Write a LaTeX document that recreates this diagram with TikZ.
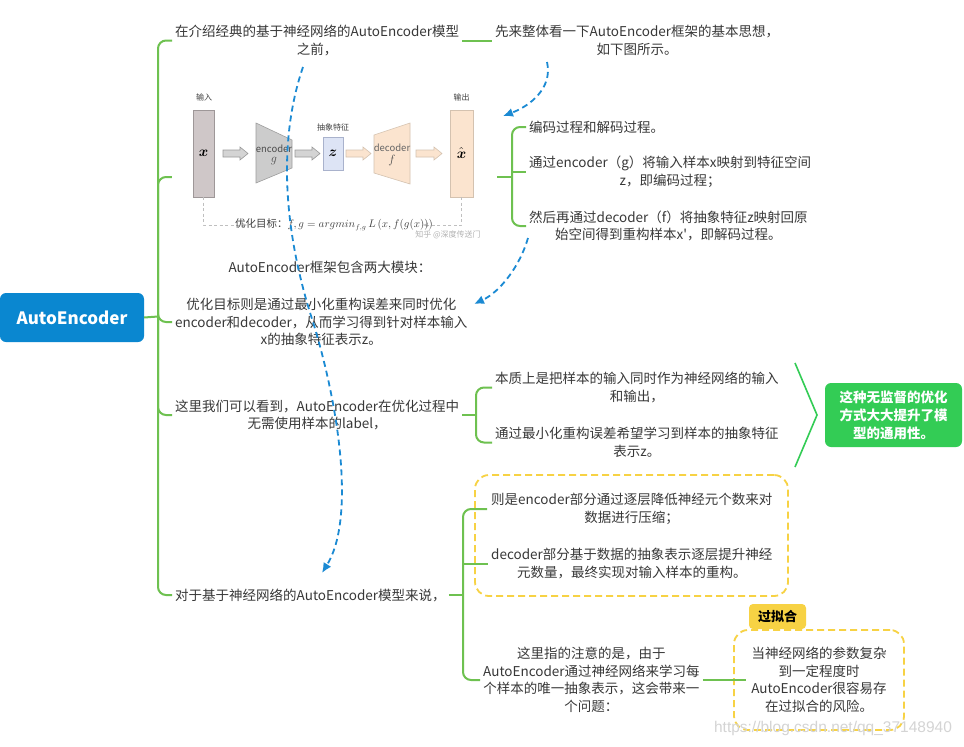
\documentclass[tikz,border=0pt]{standalone}
\usepackage{amsmath}
\usepackage{fontspec}
\setmainfont{Noto Sans CJK SC}
\newfontfamily\wmfont{Liberation Sans}
\usetikzlibrary{arrows.meta}
\definecolor{brg}{HTML}{6EC150}
\definecolor{rootblue}{HTML}{0A87D0}
\definecolor{sumgreen}{HTML}{33CC55}
\definecolor{ylw}{HTML}{F7D244}
\definecolor{dashblue}{HTML}{1B8AD3}
\definecolor{txt}{HTML}{383838}
\definecolor{inrect}{HTML}{CFC7C8}
\definecolor{inedge}{HTML}{9E9798}
\definecolor{zfill}{HTML}{DDE4F5}
\definecolor{zedge}{HTML}{A9B2CC}
\definecolor{peach}{HTML}{FBE4CF}
\definecolor{peachedge}{HTML}{D4C2B0}
\begin{document}
\begin{tikzpicture}[x=1pt,y=-1pt,
  br/.style={draw=brg,line width=2pt,rounded corners=8pt},
  topic/.style={anchor=west,align=center,text=txt,inner sep=3pt,font=\fontsize{13.5}{17.5}\selectfont},
  flow/.style={draw=dashblue,line width=1.8pt,dash pattern=on 6pt off 4pt,-{Latex[length=10pt,width=9pt]}},
  ybox/.style={draw=ylw,line width=1.8pt,dash pattern=on 7pt off 4pt,rounded corners=14pt},
  small/.style={font=\fontsize{8}{9}\selectfont,text=black!75,inner sep=0},
  garrow/.style={fill=black!17,draw=black!40,line width=0.6pt},
  parrow/.style={fill=peach,draw=peachedge,line width=0.6pt},
]
\fill[white] (0,0) rectangle (964,747);
\useasboundingbox (0,0) rectangle (964,747);

% root
\node[fill=rootblue,rounded corners=6pt,minimum width=144pt,minimum height=49pt,text=white,font=\bfseries\fontsize{17}{20}\selectfont] (root) at (72,317.5) {AutoEncoder};

% first level topics
\node[topic] (n1) at (172,40.5) {在介绍经典的基于神经网络的AutoEncoder模型\\之前，};
\node[topic] (n2) at (492,40.5) {先来整体看一下AutoEncoder框架的基本思想，\\如下图所示。};
\node[minimum width=325pt,minimum height=160pt,inner sep=0] (img) at (334.5,177) {};
\node[text=txt,font=\fontsize{13.5}{17.5}\selectfont,inner sep=0] (cap) at (330,267) {AutoEncoder框架包含两大模块：};
\node[topic] (nopt) at (172,322) {优化目标则是通过最小化重构误差来同时优化\\encoder和decoder，从而学习得到针对样本输入\\x的抽象特征表示z。};
\node[topic] (n3) at (172,415) {这里我们可以看到，AutoEncoder在优化过程中\\无需使用样本的label，};
\node[topic] (n4) at (172,595) {对于基于神经网络的AutoEncoder模型来说，};

% second level
\node[topic] (n2a) at (526,127) {编码过程和解码过程。};
\node[topic] (n2b) at (526,172) {通过encoder（g）将输入样本x映射到特征空间\\z，即编码过程；};
\node[topic] (n2c) at (526,226) {然后再通过decoder（f）将抽象特征z映射回原\\始空间得到重构样本x\textquotesingle，即解码过程。};
\node[topic] (n3a) at (492,387.5) {本质上是把样本的输入同时作为神经网络的输入\\和输出，};
\node[topic] (n3b) at (492,442.5) {通过最小化重构误差希望学习到样本的抽象特征\\表示z。};

\node[ybox,minimum width=313pt,minimum height=121pt] (grp) at (631.5,535.5) {};
\node[topic] (n4a) at (488,509) {则是encoder部分通过逐层降低神经元个数来对\\数据进行压缩；};
\node[topic] (n4b) at (488,563.5) {decoder部分基于数据的抽象表示逐层提升神经\\元数量，最终实现对输入样本的重构。};
\node[topic] (n4c) at (480,680) {这里指的注意的是，由于\\AutoEncoder通过神经网络来学习每\\个样本的唯一抽象表示，这会带来一\\个问题：};
\node[ybox,minimum width=170pt,minimum height=100pt,align=center,text=txt,font=\fontsize{13.5}{17.5}\selectfont] (n4d) at (819,680) {当神经网络的参数复杂\\到一定程度时\\AutoEncoder很容易存\\在过拟合的风险。};
\node[fill=ylw,rounded corners=4pt,minimum width=57pt,minimum height=25pt,inner sep=0,font=\bfseries\fontsize{13}{15}\selectfont,text=black] (tag) at (777.5,616.5) {过拟合};

% summary
\node[fill=sumgreen,rounded corners=6pt,minimum width=137pt,minimum height=64pt,inner sep=0,align=center,text=white,font=\bfseries\fontsize{13.5}{18}\selectfont] (sum) at (893.5,415) {这种无监督的优化\\方式大大提升了模\\型的通用性。};
\draw[sumgreen,line width=1.6pt,line join=miter] (795,363) -- (817,415) -- (795,467);

% branches
\coordinate (J) at (158,316.5);
\draw[br] (root.east) -- (J);
\draw[br] (J) |- (n1.west);
\draw[br] (J) |- (img.west);
\draw[br] (J) |- (nopt.west);
\draw[br] (J) |- (n3.west);
\draw[br] (J) |- (n4.west);
\draw[br] (n1.east) -- (n2.west);

\coordinate (J2) at (512,177);
\draw[br] (img.east) -- (J2);
\draw[br] (n2a.west) -| (J2) |- (n2c.west);
\draw[br] (512,172) -- (n2b.west);

\coordinate (J3) at (476,415);
\draw[br] (n3.east) -- (J3);
\draw[br] (n3a.west) -| (J3) |- (n3b.west);

\coordinate (J4) at (463,595);
\draw[br] (n4.east) -- (J4);
\draw[br] ([xshift=-1pt]n4a.west) -| (J4) |- (n4c.west);
\draw[br] (463,563.5) -- (n4b.west);
\draw[br] (n4c.east) -- ([xshift=13pt]n4d.west);

% embedded figure
\node[small] (lin) at (204,97) {输入};
\node[small] (lout) at (461.5,97) {输出};
\node[small] (labs) at (333,127) {抽象特征};
\draw[fill=inrect,draw=inedge,line width=0.6pt] (193,110) rectangle (214,197);
\node[inner sep=0] (xin) at (203.5,153.5) {\fontsize{14}{16}\selectfont$\boldsymbol{x}$};
\draw[garrow] (223,150) -- (240,150) -- (240,147) -- (248,153.5) -- (240,160) -- (240,157) -- (223,157) -- cycle;
\draw[fill=black!20,draw=black!38,line width=0.6pt] (256,123) -- (292,140) -- (292,168) -- (256,183) -- cycle;
\node[inner sep=0,text=black!70,font=\fontsize{9.5}{10}\selectfont] (enc) at (274,149) {encoder};
\node[inner sep=0,text=black!70] (encg) at (274,161.5) {\fontsize{12}{13}\selectfont$g$};
\draw[garrow] (295,150) -- (312,150) -- (312,147) -- (320,153.5) -- (312,160) -- (312,157) -- (295,157) -- cycle;
\draw[fill=zfill,draw=zedge,line width=0.6pt] (323,137) rectangle (343,170);
\node[inner sep=0] (zz) at (333,153.5) {\fontsize{14}{16}\selectfont$\boldsymbol{z}$};
\draw[parrow] (346,150) -- (363,150) -- (363,147) -- (371,153.5) -- (363,160) -- (363,157) -- (346,157) -- cycle;
\draw[fill=peach,draw=peachedge,line width=0.6pt] (374,135) -- (410,123) -- (410,184) -- (374,173) -- cycle;
\node[inner sep=0,text=black!60,font=\fontsize{9.5}{10}\selectfont] (dec) at (392,148) {decoder};
\node[inner sep=0,text=black!70] (decf) at (392,160.5) {\fontsize{12}{13}\selectfont$f$};
\draw[parrow] (416,150) -- (434,150) -- (434,147) -- (442,153.5) -- (434,160) -- (434,157) -- (416,157) -- cycle;
\draw[fill=peach,draw=peachedge,line width=0.6pt] (450,110) rectangle (473,197);
\node[inner sep=0] (xout) at (461.5,153) {\fontsize{14}{16}\selectfont$\hat{\boldsymbol{x}}$};
\draw[black!25,line width=0.7pt,dash pattern=on 3pt off 2.5pt,-{Stealth[length=5pt,width=4pt]}] (203.5,197) |- (247,225);
\draw[black!25,line width=0.7pt,dash pattern=on 3pt off 2.5pt,-{Stealth[length=5pt,width=4pt]}] (461.5,197) |- (423,225);
\node[inner sep=0,text=black!75,font=\fontsize{10.5}{12}\selectfont] (goal) at (334,225) {优化目标：$f,g=argmin_{f,g}\,L\left(x,f(g(x))\right)$};
\node[inner sep=0,text=black!30,font=\fontsize{8}{9}\selectfont] (zh) at (448,235) {知乎 @深度传送门};

% watermark
\node[inner sep=0,text=black!17,font=\wmfont\fontsize{15.5}{17}\selectfont] (wm) at (833,728) {https://blog.csdn.net/qq\_37148940};

% dashed blue arrows
\coordinate (a1s) at (547,62); \coordinate (a1e) at (503,116);
\draw[flow] (a1s) .. controls (553,88) and (530,106) .. (a1e);
\coordinate (a2s) at (303,67); \coordinate (a2m) at (313,322); \coordinate (a2e) at (322,573);
\draw[flow] (a2s) .. controls (278,140) and (283,230) .. (a2m) .. controls (340,410) and (355,520) .. (a2e);
\coordinate (a3s) at (528,238); \coordinate (a3e) at (474,304);
\draw[flow] (a3s) .. controls (520,266) and (500,292) .. (a3e);
\end{tikzpicture}
\end{document}
